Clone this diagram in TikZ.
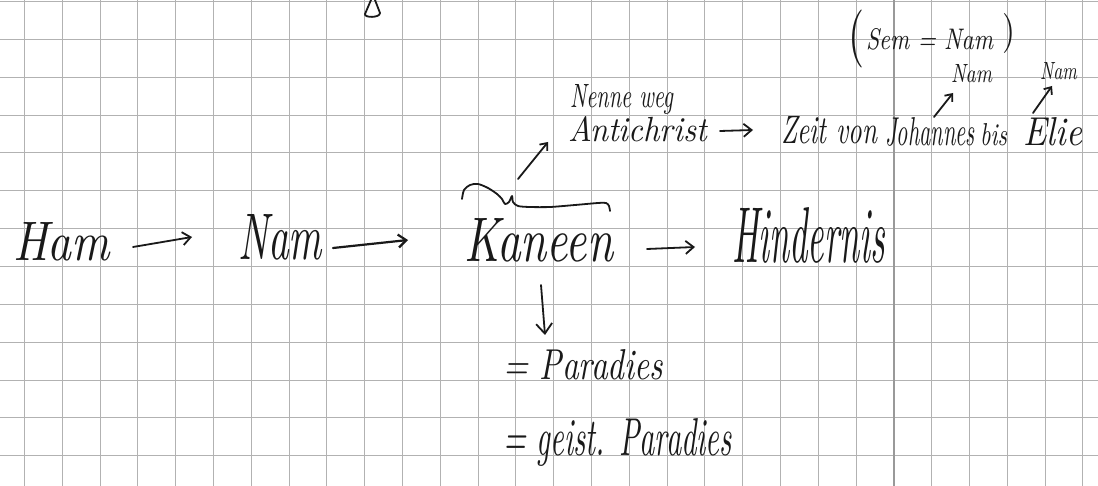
\documentclass[tikz,border=0pt]{standalone}
\usepackage{graphicx}
\usetikzlibrary{arrows.meta}
\tikzset{
  gridline/.style={draw=gray!60, line width=0.9pt},
  gridbold/.style={draw=gray!80, line width=1.6pt},
  ink/.style={draw=black!90, line width=1.8pt, line cap=round, line join=round},
  arr/.style={ink, -{Straight Barb[length=8pt,width=13pt]}},
  hw/.style={anchor=base west, inner sep=0pt, outer sep=0pt, text=black!90},
  hwtop/.style={anchor=north west, inner sep=0pt, outer sep=0pt, text=black!90},
}
\newcommand\hwtext[3]{\resizebox{#1pt}{#2pt}{\itshape #3}}
\newcommand\hwparen[3]{\resizebox*{#1pt}{#2pt}{#3}}
\begin{document}
\begin{tikzpicture}[x=1pt,y=-1pt]
\useasboundingbox (0,0) rectangle (1098,486);
\fill[white] (0,0) rectangle (1098,486);
% squared paper
\foreach \k in {0,...,28} \draw[gridline] ({24.4+37.8*\k},0) -- ({24.4+37.8*\k},486);
\foreach \j in {0,...,12} \draw[gridline] (0,{1.5+37.85*\j}) -- (1098,{1.5+37.85*\j});
\draw[gridbold] (893.8,0) -- (893.8,486);

% main chain
\node[hw] (ham) at (13,261) {\hwtext{97}{38}{Ham}};
\node[hw] (nam) at (238,260) {\hwtext{84}{45}{Nam}};
\node[hw] (kan) at (464,262) {\hwtext{149}{43}{Kaneen}};
\node[hw] (hin) at (732,263) {\hwtext{153}{55}{Hindernis}};

\draw[arr] ([shift={(23,-14)}]ham.base east) -- ([shift={(-46,-23)}]nam.base west);
\draw[arr, line width=2.2pt] ([shift={(11,-12)}]nam.base east) -- ([shift={(-56,-22)}]kan.base west);
\draw[arr] ([shift={(34,-13)}]kan.base east) -- ([shift={(-37,-16)}]hin.base west);

% upper line
\node[hw] (nenne) at (570,108) {\hwtext{103}{23}{Nenne weg}};
\node[hw] (anti) at (568,142) {\hwtext{139}{25}{Antichrist}};
\node[hw] (zeit) at (781,144) {\hwtext{96}{27}{Zeit von}};
\node[hw] (joh) at (885,146) {\hwtext{90}{28}{Johannes}};
\node[hw] (bis) at (980,146) {\hwtext{27}{22}{bis}};
\node[hw] (elie) at (1023,146) {\hwtext{59}{28}{Elie}};

\draw[arr] ([shift={(13,-11)}]anti.base east) -- ([shift={(-28,-14)}]zeit.base west);

% mark above Kaneen and arrow to Antichrist
\draw[ink] plot[smooth, tension=0.5] coordinates {(462,199) (464,190) (470,185) (478,184) (488,188) (497,194) (502,199) (505,204) (509,202) (512,196) (513,202) (518,206) (530,207) (550,207) (575,205) (598,203) (606,203) (609,206) (610,211)};
\coordinate (tl) at (518,179);
\draw[ink, -{Straight Barb[length=6pt,width=10pt]}] (tl) -- ([shift={(-20,0)}]anti.base west);

% top right
\node[hwtop] (lpar) at (848,10) {\hwparen{16}{58}{(}};
\node[hw] (sem) at (866,50) {\hwtext{127}{21}{Sem = Nam}};
\node[hwtop] (rpar) at (1002,13) {\hwparen{13}{40}{)}};
\node[hw] (nam1) at (951,83) {\hwtext{41}{18}{Nam}};
\node[hw] (nam2) at (1040,80) {\hwtext{37}{17}{Nam}};
\draw[ink, -{Straight Barb[length=6pt,width=10pt]}] ([shift={(49,-29)}]joh.base west) -- ([shift={(2,10)}]nam1.base west);
\draw[ink, -{Straight Barb[length=6pt,width=10pt]}] ([shift={(10,-33)}]elie.base west) -- ([shift={(12,6)}]nam2.base west);

% lower part
\node[hw] (par1) at (503,380) {\hwtext{160}{30}{= Paradies}};
\node[hw] (par2) at (503,455) {\hwtext{229}{37}{= geist. Paradies}};
\draw[ink, -{Straight Barb[length=10pt,width=16pt]}] ([shift={(77,23)}]kan.base west) -- ([shift={(42,-45)}]par1.base west);

% stroke cut off at top edge
\draw[ink] (371,0) -- (365,14) .. controls (364,18) and (380,18) .. (380,13) -- (375,0);
\end{tikzpicture}
\end{document}
